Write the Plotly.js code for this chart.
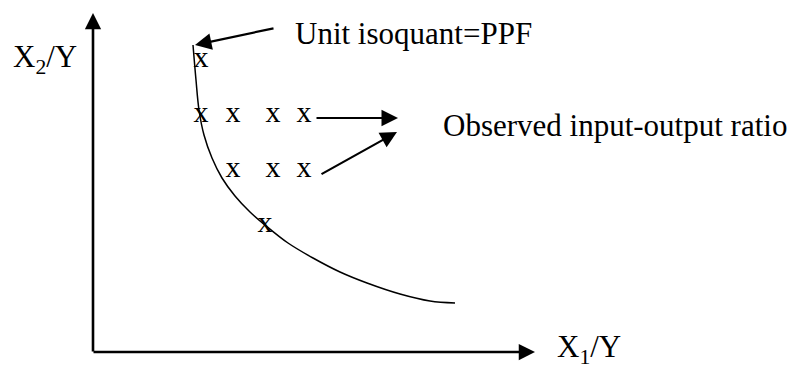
<!DOCTYPE html>
<html>
<head>
<meta charset="utf-8">
<script src="https://cdn.plot.ly/plotly-3.0.1.min.js"></script>
<style>html,body{margin:0;padding:0;background:#fff;}#chart{width:800px;height:369px;}</style>
</head>
<body>
<div id="chart"></div>
<script>
// Diagram coordinates (canvas units, y measured downward)
var curveX = [193,196,199,204,212,222,235,250,265,288,313,340,367,400,430,455];
var curveY = [45,80,110,135,158,178,196,212,225,243,258,272,283,294,301,303];

var obsX = [201, 201,233,273,304, 233,273,304, 265];
var obsY = [59, 114,114,114,114, 169,169,169, 224];
var obsMark = 'x';

var yAxisLabel = 'X<sub>2</sub>/Y';
var xAxisLabel = 'X<sub>1</sub>/Y';
var frontierLabel = 'Unit isoquant=PPF';
var observedLabel = 'Observed input-output ratio';

var FONT = 'Liberation Serif, Times New Roman, serif';

var traces = [
  {x: curveX, y: curveY, mode: 'lines', line: {color: '#000', width: 1.5, shape: 'spline', smoothing: 1}, hoverinfo: 'skip'},
  {x: obsX, y: obsY, mode: 'text', text: obsX.map(function(){return obsMark;}), textposition: 'middle center',
   textfont: {family: FONT, size: 30, color: '#000'}, hoverinfo: 'skip'}
];

function arrow(tx, ty, fx, fy, w, s) {
  return {x: tx, y: ty, ax: fx, ay: fy, xref: 'x', yref: 'y', axref: 'x', ayref: 'y',
    text: '', showarrow: true, arrowhead: 2, arrowsize: s, arrowwidth: w, arrowcolor: '#000',
    standoff: 0, startstandoff: 0};
}
function label(t, x, y) {
  return {x: x, y: y, xref: 'x', yref: 'y', text: t, showarrow: false, xanchor: 'left', yanchor: 'middle',
    font: {family: FONT, size: 31, color: '#000'}};
}

var layout = {
  width: 800, height: 369,
  margin: {l: 0, r: 0, t: 0, b: 0},
  paper_bgcolor: '#fff', plot_bgcolor: '#fff',
  showlegend: false,
  xaxis: {range: [0, 800], visible: false, fixedrange: true},
  yaxis: {range: [369, 0], visible: false, fixedrange: true},
  annotations: [
    arrow(93, 13, 93, 353, 2.6, 1.25),
    arrow(535, 352, 92, 352, 2.6, 1.25),
    arrow(195, 45, 275, 28, 2.2, 1.5),
    arrow(398, 118, 315, 118, 2.2, 1.5),
    arrow(397, 132, 320, 175, 2.2, 1.5),
    label(frontierLabel, 293, 33),
    label(observedLabel, 441, 125),
    label(yAxisLabel, 11, 59),
    label(xAxisLabel, 555, 349)
  ]
};

Plotly.newPlot('chart', traces, layout, {staticPlot: true, displayModeBar: false});
</script>
</body>
</html>
